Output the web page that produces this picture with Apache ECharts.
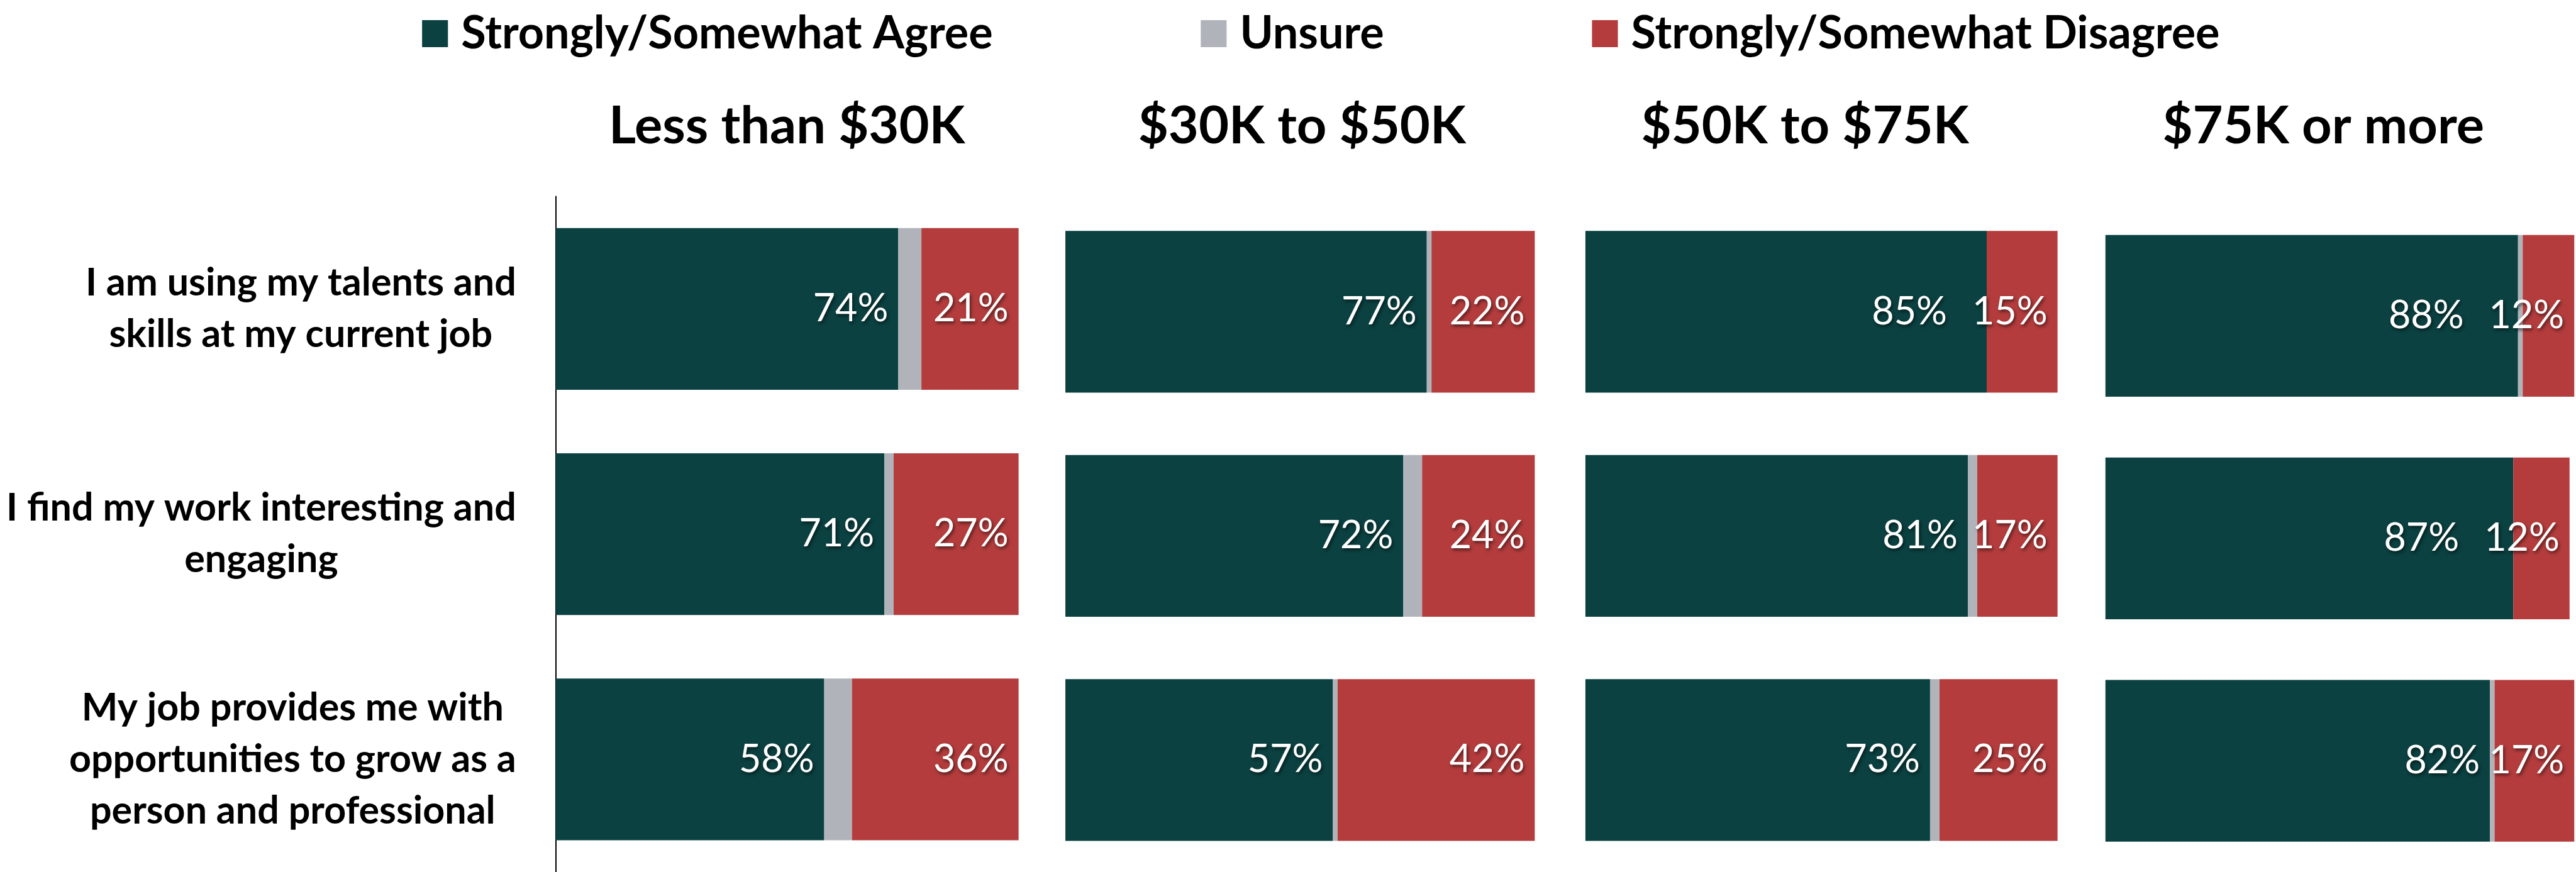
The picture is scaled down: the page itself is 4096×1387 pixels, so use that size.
<!DOCTYPE html>
<html>
<head>
<meta charset="utf-8">
<script src="https://cdn.jsdelivr.net/npm/echarts@6/dist/echarts.min.js"></script>
<style>
  html, body { margin: 0; padding: 0; background: #fff; }
  #chart { width: 4096px; height: 1387px; }
</style>
</head>
<body>
<div id="chart"></div>
<script>
var statements = [
  'I am using my talents and\nskills at my current job',
  'I find my work interesting and\nengaging',
  'My job provides me with\nopportunities to grow as a\nperson and professional'
];
var incomeGroups = ['Less than $30K', '$30K to $50K', '$50K to $75K', '$75K or more'];
var seriesNames = ['Strongly/Somewhat Agree', 'Unsure', 'Strongly/Somewhat Disagree'];

// one row per income group, values follow the statements order
var agreeByGroup = [[74, 71, 58], [77, 72, 57], [85, 81, 73], [88, 87, 82]];
var unsureByGroup = [[5, 2, 6], [1, 4, 1], [0, 2, 2], [1, 0, 1]];
var disagreeByGroup = [[21, 27, 36], [22, 24, 42], [15, 17, 25], [12, 12, 17]];

var colors = ['#0b4141', '#b0b4ba', '#b43c3d'];
var FONT = 'Lato';

// layout measured on the 4680px reference, scaled to the window
var S = 0.875;
var panelLeft = [1010, 1936, 2881, 3826];
var panelWidth = [841, 853, 858, 852];
var panelTop = [357, 363, 363, 372];
var titleCenter = [1430, 2366, 3280, 4222];
var legendLeft = [767, 2182, 2893];
var LABEL_PAD = 16;

var chart = echarts.init(document.getElementById('chart'));

var grids = [], xAxes = [], yAxes = [], series = [];
var valueSets = [agreeByGroup, unsureByGroup, disagreeByGroup];

// push the agree label left when it would run into the disagree label (as Excel does)
function agreeLabelLayout(i) {
  return function (params) {
    var j = params.dataIndex;
    var total = agreeByGroup[i][j] + unsureByGroup[i][j] + disagreeByGroup[i][j];
    var endX = panelLeft[i] * S + Math.min(total, 100) / 100 * panelWidth[i] * S;
    var w = params.labelRect.width;
    var disLeft = endX - LABEL_PAD - w;
    var right = params.labelRect.x + w;
    if (right > disLeft - 12) {
      return { dx: (disLeft - 40) - right };
    }
    return {};
  };
}

incomeGroups.forEach(function (group, i) {
  grids.push({
    left: panelLeft[i] * S,
    top: panelTop[i] * S,
    width: panelWidth[i] * S,
    height: 1236 * S
  });
  xAxes.push({ gridIndex: i, type: 'value', min: 0, max: 100, show: false });

  var yAxis = {
    gridIndex: i,
    type: 'category',
    data: statements,
    inverse: true,
    axisTick: { show: false },
    splitLine: { show: false }
  };
  if (i === 0) {
    yAxis.axisLine = { show: true, lineStyle: { color: '#000', width: 2 } };
    yAxis.axisLabel = {
      margin: 63,
      align: 'right',
      formatter: function (v) {
        return v.split('\n').map(function (l) { return '{c|' + l + '}'; }).join('\n');
      },
      rich: {
        c: {
          align: 'center',
          fontFamily: FONT,
          fontWeight: 'bold',
          fontSize: 61,
          lineHeight: 82,
          color: '#000'
        }
      }
    };
  } else {
    yAxis.axisLine = { show: false };
    yAxis.axisLabel = { show: false };
  }
  yAxes.push(yAxis);

  seriesNames.forEach(function (name, k) {
    var s = {
      name: name,
      type: 'bar',
      stack: 'group' + i,
      xAxisIndex: i,
      yAxisIndex: i,
      barWidth: 294 * S,
      itemStyle: { color: colors[k] },
      label: {
        show: k !== 1,
        position: 'insideRight',
        distance: LABEL_PAD,
        formatter: '{c}%',
        color: '#fff',
        fontFamily: FONT,
        fontSize: 61,
        textShadowColor: 'rgba(0,0,0,0.55)',
        textShadowBlur: 5,
        textShadowOffsetX: 2,
        textShadowOffsetY: 3
      },
      data: valueSets[k][i]
    };
    if (k === 0) s.labelLayout = agreeLabelLayout(i);
    series.push(s);
  });
});

var legends = seriesNames.map(function (name, k) {
  return {
    data: [name],
    left: legendLeft[k] * S,
    top: 20 * S,
    padding: 0,
    icon: 'rect',
    itemWidth: 47 * S,
    itemHeight: 49 * S,
    selectedMode: false,
    textStyle: {
      fontFamily: FONT,
      fontWeight: 'bold',
      fontSize: 72,
      color: '#000',
      padding: [0, 0, 0, 16]
    }
  };
});

var titles = incomeGroups.map(function (group, i) {
  return {
    type: 'text',
    x: titleCenter[i] * S,
    y: 229.5 * S,
    style: {
      text: group,
      align: 'center',
      verticalAlign: 'middle',
      fontFamily: FONT,
      fontWeight: 'bold',
      fontSize: 83,
      fill: '#000'
    }
  };
});

chart.setOption({
  animation: false,
  backgroundColor: '#fff',
  legend: legends,
  grid: grids,
  xAxis: xAxes,
  yAxis: yAxes,
  series: series,
  graphic: titles
});
</script>
</body>
</html>
